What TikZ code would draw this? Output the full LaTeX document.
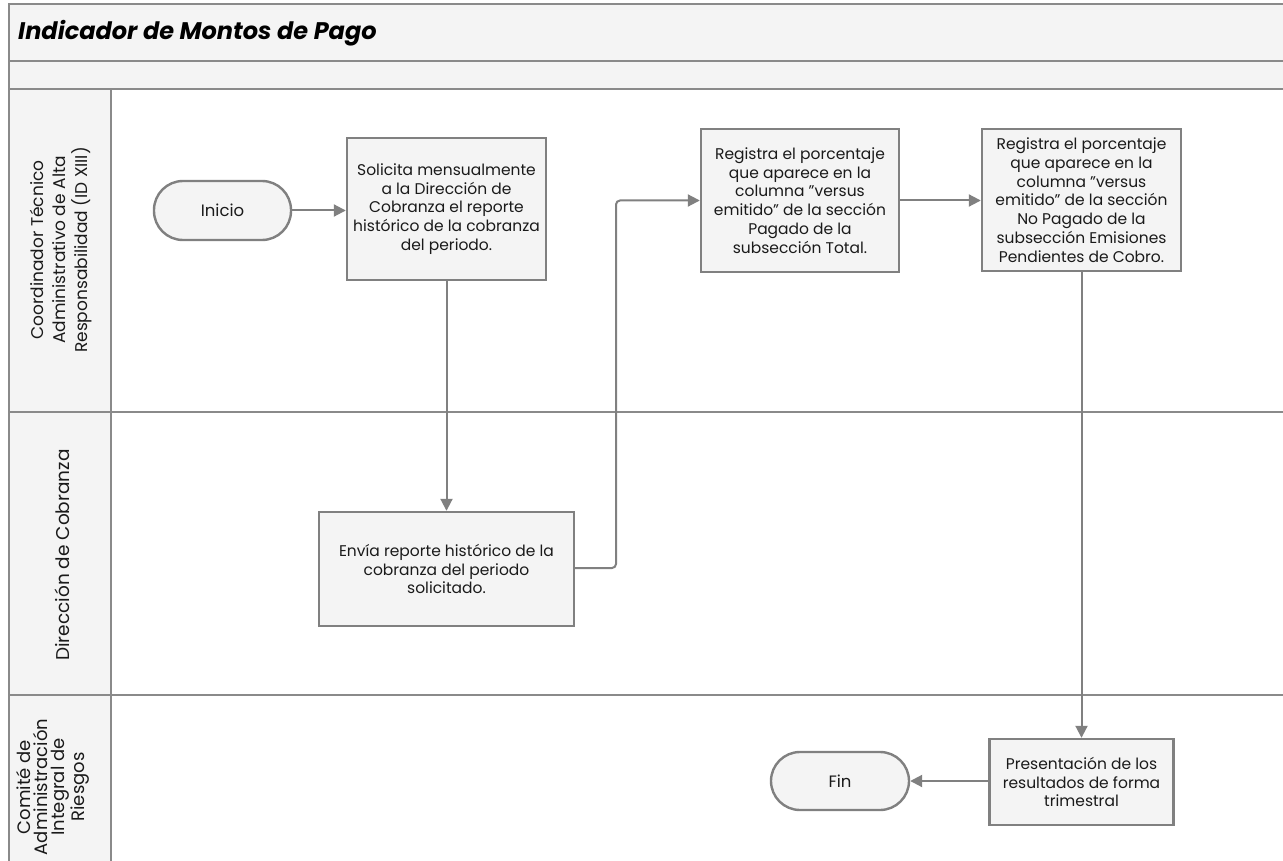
\documentclass[tikz,border=0pt]{standalone}
\usepackage{fontspec}
\setmainfont{Poppins}
\usetikzlibrary{arrows.meta}
\definecolor{lanegray}{HTML}{8A8A8A}
\definecolor{boxfill}{HTML}{F4F4F4}
\definecolor{edgegray}{HTML}{808080}
\definecolor{txt}{HTML}{1A1A1A}
\newcommand{\dq}{\symbol{34}}
\begin{document}
\begin{tikzpicture}[x=1pt,y=-1pt,
  lane/.style={draw=lanegray,line width=2pt},
  procbox/.style={draw=edgegray,fill=boxfill,line width=2.4pt,inner sep=0pt,align=center,
     text=txt,font=\fontsize{15.5}{18.8}\selectfont},
  termbox/.style={draw=edgegray,fill=boxfill,line width=2.4pt,inner sep=0pt,
     text=txt,rounded corners=29pt,font=\fontsize{16.5}{18}\selectfont},
  flow/.style={draw=edgegray,line width=2pt,rounded corners=4pt,
     -{Triangle[length=12pt,width=12pt]}},
  lanelabel/.style={rotate=90,align=center,inner sep=0pt,text=txt}
]
\useasboundingbox (0,0) rectangle (1283,861);
% bands
\fill[white] (0,0) rectangle (1283,861);
\fill[boxfill] (9,4) rectangle (1290,89);
\fill[boxfill] (9,89) rectangle (111,870);
\draw[lane] (1290,4) -- (9,4) -- (9,870);
\draw[lane] (9,61) -- (1290,61);
\draw[lane] (9,89) -- (1290,89);
\draw[lane] (9,412) -- (1290,412);
\draw[lane] (9,695) -- (1290,695);
\draw[lane] (111,89) -- (111,870);
% title
\node[anchor=base west,inner sep=0pt,font=\fontsize{24}{26}\selectfont\bfseries\itshape] (title) at (18,40) {Indicador de Montos de Pago};
% lane labels
\node[lanelabel,font=\fontsize{17}{22}\selectfont] (lab1) at (61,250) {Coordinador Técnico\\Administrativo de Alta\\Responsabilidad (ID XIII)};
\node[lanelabel,font=\fontsize{18.5}{20}\selectfont] (lab2) at (62,555) {Dirección de Cobranza};
\node[lanelabel,font=\fontsize{18}{17}\selectfont] (lab3) at (53,787) {Comité de\\Administración\\Integral de\\Riesgos};
% nodes
\node[termbox,minimum width=137pt,minimum height=59pt] (inicio) at (222.5,210.5) {Inicio};
\node[procbox,minimum width=199pt,minimum height=142pt] (solicita) at (446.5,209) {Solicita mensualmente\\a la Dirección de\\Cobranza el reporte\\histórico de la cobranza\\del periodo.};
\node[procbox,minimum width=198pt,minimum height=143pt] (regtotal) at (800,200.5) {Registra el porcentaje\\que aparece en la\\columna \dq versus\\emitido\dq{} de la sección\\Pagado de la\\subsección Total.};
\node[procbox,minimum width=199pt,minimum height=142pt] (regnopag) at (1081.5,200) {Registra el porcentaje\\que aparece en la\\columna \dq versus\\emitido\dq{} de la sección\\No Pagado de la\\subsección Emisiones\\Pendientes de Cobro.};
\node[procbox,minimum width=255pt,minimum height=114pt] (envia) at (446.5,569) {Envía reporte histórico de la\\cobranza del periodo\\solicitado.};
\node[procbox,minimum width=184pt,minimum height=86pt] (presenta) at (1081.5,782) {Presentación de los\\resultados de forma\\trimestral};
\node[termbox,minimum width=138pt,minimum height=58pt] (fin) at (840,781) {Fin};
% connectors
\coordinate (c1) at (616,568);
\coordinate (c2) at (616,200.5);
\draw[flow] (inicio.east) -- (solicita.west |- inicio.east);
\draw[flow] (solicita.south) -- (envia.north);
\draw[flow] (envia.east |- c1) -- (c1) -- (c2) -- (regtotal.west);
\draw[flow] (regtotal.east) -- (regnopag.west |- regtotal.east);
\draw[flow] (regnopag.south) -- (presenta.north);
\draw[flow] (presenta.west |- fin.east) -- (fin.east);
\end{tikzpicture}
\end{document}
